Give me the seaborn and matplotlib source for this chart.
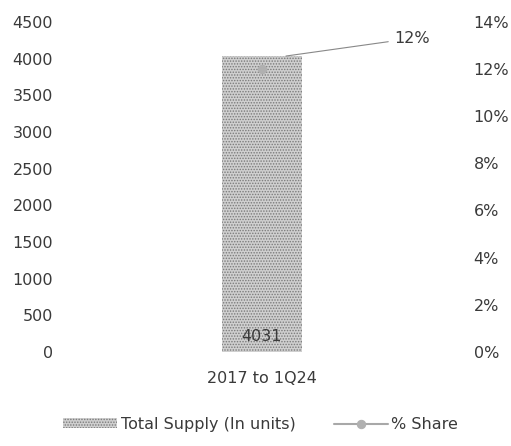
import matplotlib
matplotlib.use("Agg")
import matplotlib.pyplot as plt
import pandas as pd
import seaborn as sns

categories = ["2017 to 1Q24"]
total_supply = [4031]
share_pct = [12]

sns.set_theme(style="white")
plt.rcParams["font.family"] = ["DejaVu Sans"]
plt.rcParams["hatch.linewidth"] = 0.7

df = pd.DataFrame({"period": categories, "supply": total_supply, "share": share_pct})

txt = "#3a3a3a"
fig = plt.figure(figsize=(5.11, 4.46), dpi=100)
ax = fig.add_axes([0.12, 0.211, 0.785, 0.740])

sns.barplot(data=df, x="period", y="supply", ax=ax, width=0.2,
            color="#cfcfcf", edgecolor="#7a7a7a", linewidth=0, hatch="......",
            label="Total Supply (In units)")
if ax.get_legend() is not None:
    ax.get_legend().remove()
ax.set_ylim(0, 4500)
ax.set_yticks(range(0, 4501, 500))
ax.set_xlabel("")
ax.set_ylabel("")
for s in ax.spines.values():
    s.set_visible(False)
ax.tick_params(axis="y", length=0, labelsize=11.5, labelcolor=txt, pad=6)
ax.tick_params(axis="x", length=0, labelsize=11.5, labelcolor=txt, pad=14)

for i, v in enumerate(total_supply):
    ax.text(i, 110, f"{v}", ha="center", va="bottom", fontsize=11.5, color=txt)

ax2 = ax.twinx()
sns.lineplot(x=list(range(len(categories))), y=share_pct, ax=ax2, marker="o",
             color="#a8a8a8", markersize=6, markerfacecolor="#b0b0b0",
             markeredgecolor="#b0b0b0", label="% Share", legend=False)
ax2.set_ylim(0, 14)
ax2.set_yticks(range(0, 15, 2))
ax2.set_yticklabels([f"{t}%" for t in range(0, 15, 2)])
ax2.set_ylabel("")
for s in ax2.spines.values():
    s.set_visible(False)
ax2.tick_params(axis="y", length=0, labelsize=11.5, labelcolor=txt, pad=8)

for i, v in enumerate(share_pct):
    ax2.annotate(f"{v}%", xy=(i + 0.06, v + 0.55), xytext=(i + 0.33, v + 1.3),
                 fontsize=11.5, color=txt, va="center",
                 arrowprops=dict(arrowstyle="-", color="#888888", lw=0.8,
                                 shrinkA=2, shrinkB=0))

ax.set_xlim(-0.5, 0.5)
ax2.set_xlim(-0.5, 0.5)

h1, l1 = ax.get_legend_handles_labels()
h2, l2 = ax2.get_legend_handles_labels()
fig.legend(h1 + h2, l1 + l2, loc="lower center", bbox_to_anchor=(0.51, 0.0),
           ncol=2, frameon=False, fontsize=11.5, handlelength=3.4,
           handleheight=0.5, columnspacing=2.4, handletextpad=0.2,
           labelcolor=txt)

fig.savefig("out.png", dpi=100)
